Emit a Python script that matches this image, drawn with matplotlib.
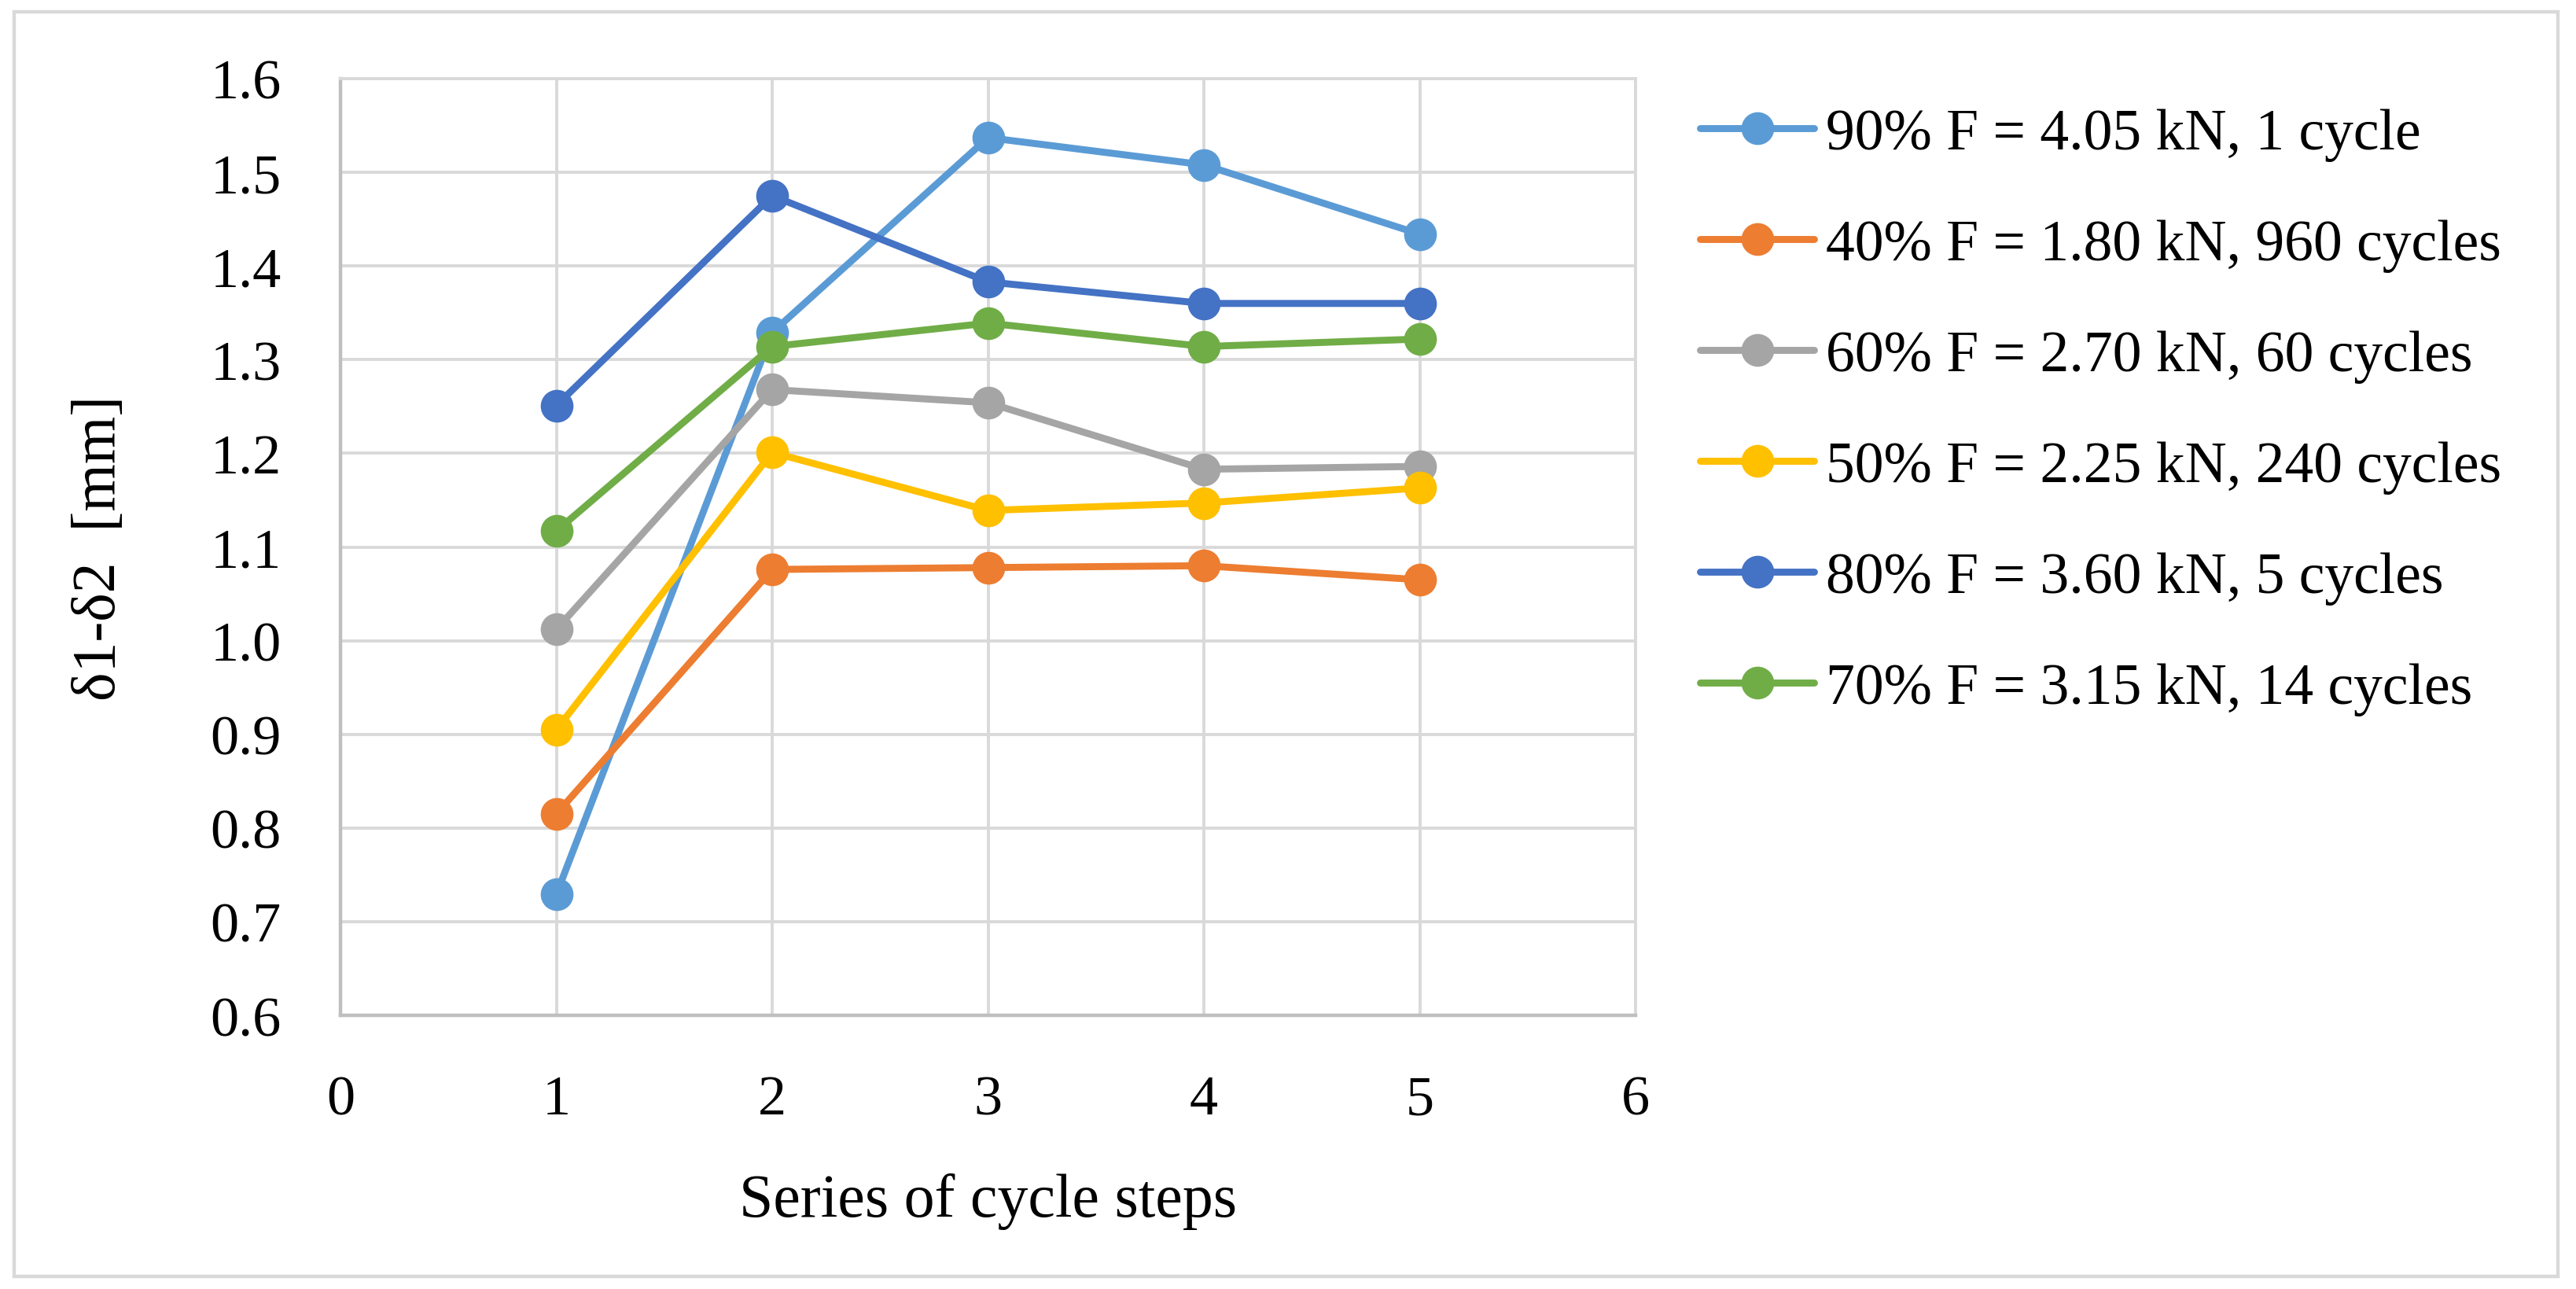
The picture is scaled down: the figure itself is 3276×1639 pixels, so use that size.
import matplotlib
matplotlib.use("Agg")
import matplotlib.pyplot as plt
from matplotlib.patches import Rectangle

plt.rcParams['font.family'] = ['Liberation Serif', 'DejaVu Serif']

# ---- data ----
steps = [1, 2, 3, 4, 5]
labels = [
    "90% F = 4.05 kN, 1 cycle",
    "40% F = 1.80 kN, 960 cycles",
    "60% F = 2.70 kN, 60 cycles",
    "50% F = 2.25 kN, 240 cycles",
    "80% F = 3.60 kN, 5 cycles",
    "70% F = 3.15 kN, 14 cycles",
]
s90 = [0.729, 1.329, 1.537, 1.508, 1.434]
s40 = [0.815, 1.076, 1.078, 1.080, 1.065]
s60 = [1.012, 1.268, 1.254, 1.183, 1.186]
s50 = [0.905, 1.201, 1.139, 1.147, 1.163]
s80 = [1.251, 1.475, 1.383, 1.360, 1.360]
s70 = [1.117, 1.314, 1.339, 1.314, 1.322]
series = [s90, s40, s60, s50, s80, s70]
colors = ["#5B9BD5", "#ED7D31", "#A5A5A5", "#FFC000", "#4472C4", "#70AD47"]

x_ticks = [0, 1, 2, 3, 4, 5, 6]
y_ticks = [0.6, 0.7, 0.8, 0.9, 1.0, 1.1, 1.2, 1.3, 1.4, 1.5, 1.6]

W, H, DPI = 3276, 1640, 200
fig = plt.figure(figsize=(W / DPI, H / DPI), dpi=DPI)
fig.patch.set_facecolor("white")

# outer chart border
fig.patches.append(Rectangle((18 / W, 1 - 1624 / H), (3253 - 18) / W, (1624 - 16) / H,
                             transform=fig.transFigure, fill=False,
                             edgecolor="#d9d9d9", linewidth=1.6, zorder=0))

ax = fig.add_axes([433 / W, 1 - 1292 / H, (2080 - 433) / W, (1292 - 101) / H])

for vals, lab, col in zip(series, labels, colors):
    ax.plot(steps, vals, color=col, linewidth=3.2, marker="o", markersize=15,
            markeredgewidth=0, label=lab, solid_capstyle="round", zorder=3)

ax.set_xlim(0, 6)
ax.set_ylim(0.6, 1.6)
ax.set_xticks(x_ticks)
ax.set_yticks(y_ticks)
ax.set_xticklabels([str(v) for v in x_ticks])
ax.set_yticklabels([f"{v:.1f}" for v in y_ticks])
ax.grid(True, color="#d9d9d9", linewidth=1.4, zorder=0)
ax.set_axisbelow(True)
ax.tick_params(axis="both", length=0, labelsize=26, colors="black")
ax.tick_params(axis="x", pad=27)
ax.tick_params(axis="y", pad=27)
for side in ["top", "right"]:
    ax.spines[side].set_color("#d9d9d9")
    ax.spines[side].set_linewidth(1.4)
for side in ["left", "bottom"]:
    ax.spines[side].set_color("#bfbfbf")
    ax.spines[side].set_linewidth(1.6)

ax.set_xlabel("Series of cycle steps", fontsize=28, va="top")
ax.xaxis.set_label_coords(0.5, -(1492 - 1292) / (1292 - 101))
ax.set_ylabel("δ1-δ2  [mm]", fontsize=28, va="center", ha="center")
ax.yaxis.set_label_coords((127 - 433) / (2080 - 433), 0.5)

leg = fig.legend(loc="upper left", bbox_to_anchor=(2162 / W, 1 - 138 / H),
                 frameon=False, fontsize=26.5, handlelength=1.97,
                 handletextpad=0.2, labelspacing=1.0, borderpad=0,
                 borderaxespad=0)

fig.savefig("out.png", dpi=DPI, facecolor="white")
